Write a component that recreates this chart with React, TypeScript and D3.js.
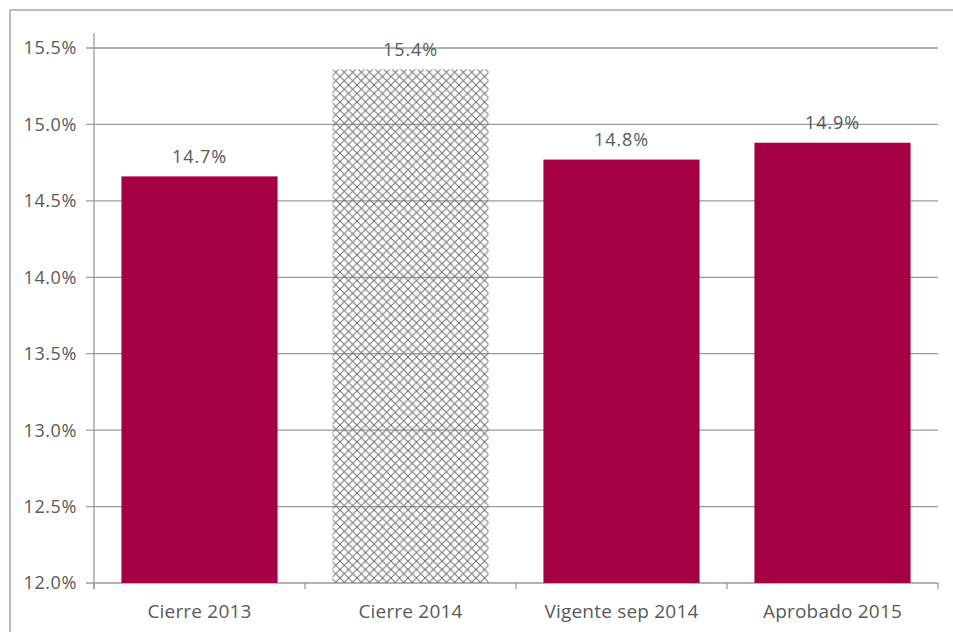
import React from "react";
import * as d3 from "d3";

const categories = ["Cierre 2013", "Cierre 2014", "Vigente sep 2014", "Aprobado 2015"];
const values = [14.66, 15.36, 14.77, 14.88];
const valueLabels = ["14.7%", "15.4%", "14.8%", "14.9%"];
const hatched = [false, true, false, false];
const yTicks = [12.0, 12.5, 13.0, 13.5, 14.0, 14.5, 15.0, 15.5];

export default function App() {
  const W = 953, H = 632;
  const left = 94, right = 938, top = 33, bottom = 583;
  const x = d3.scaleBand<string>().domain(categories).range([left, right]).paddingInner(0.26).paddingOuter(0.13);
  const y = d3.scaleLinear().domain([12, 15.5]).range([bottom, 48]);
  const xStep = (right - left) / categories.length;
  const font = "'Open Sans', Lato, sans-serif";
  const textColor = "#595959";
  const gridColor = "#9a9a9a";
  return (
    <svg width={W} height={H} style={{ position: "absolute", left: 0, top: 0 }}>
      <defs>
        <pattern id="hatch" patternUnits="userSpaceOnUse" width={8.5} height={8.5}>
          <path d="M0,0 L8.5,8.5 M-1,7.5 L1,9.5 M7.5,-1 L9.5,1" stroke="#707070" strokeWidth={1} />
          <path d="M8.5,0 L0,8.5 M-1,1 L1,-1 M7.5,9.5 L9.5,7.5" stroke="#707070" strokeWidth={1} />
        </pattern>
      </defs>
      <rect x={0} y={0} width={W} height={H} fill="#fff" />
      <rect x={10} y={10} width={W + 10} height={H + 10} fill="none" stroke="#a6a6a6" strokeWidth={1.5} />
      {yTicks.map((t) => (
        <g key={t}>
          <line x1={left - 8} x2={right} y1={y(t)} y2={y(t)} stroke={gridColor} strokeWidth={1.3} />
          <text x={77} y={y(t)} dy="0.36em" textAnchor="end" fontFamily={font} fontSize={18} letterSpacing={0.6} fill={textColor}>
            {t.toFixed(1)}%
          </text>
        </g>
      ))}
      {categories.map((c, i) => {
        const x0 = x(c)!;
        const bw = x.bandwidth();
        return (
          <g key={c}>
            <rect
              x={x0}
              y={y(values[i])}
              width={bw}
              height={y(12) - y(values[i])}
              fill={hatched[i] ? "url(#hatch)" : "#a50043"}
            />
            <text x={x0 + bw / 2} y={y(values[i]) - 13.5} textAnchor="middle" fontFamily={font} fontSize={18} letterSpacing={0.9} fill={textColor}>
              {valueLabels[i]}
            </text>
            <text x={x0 + bw / 2} y={618} textAnchor="middle" fontFamily={font} fontSize={19} letterSpacing={0.2} fill={textColor}>
              {c}
            </text>
          </g>
        );
      })}
      <line x1={left} x2={left} y1={top} y2={bottom + 6} stroke={gridColor} strokeWidth={1.3} />
      {d3.range(categories.length + 1).map((i) => (
        <line key={i} x1={left + i * xStep} x2={left + i * xStep} y1={bottom} y2={bottom + 6} stroke={gridColor} strokeWidth={1.3} />
      ))}
    </svg>
  );
}
